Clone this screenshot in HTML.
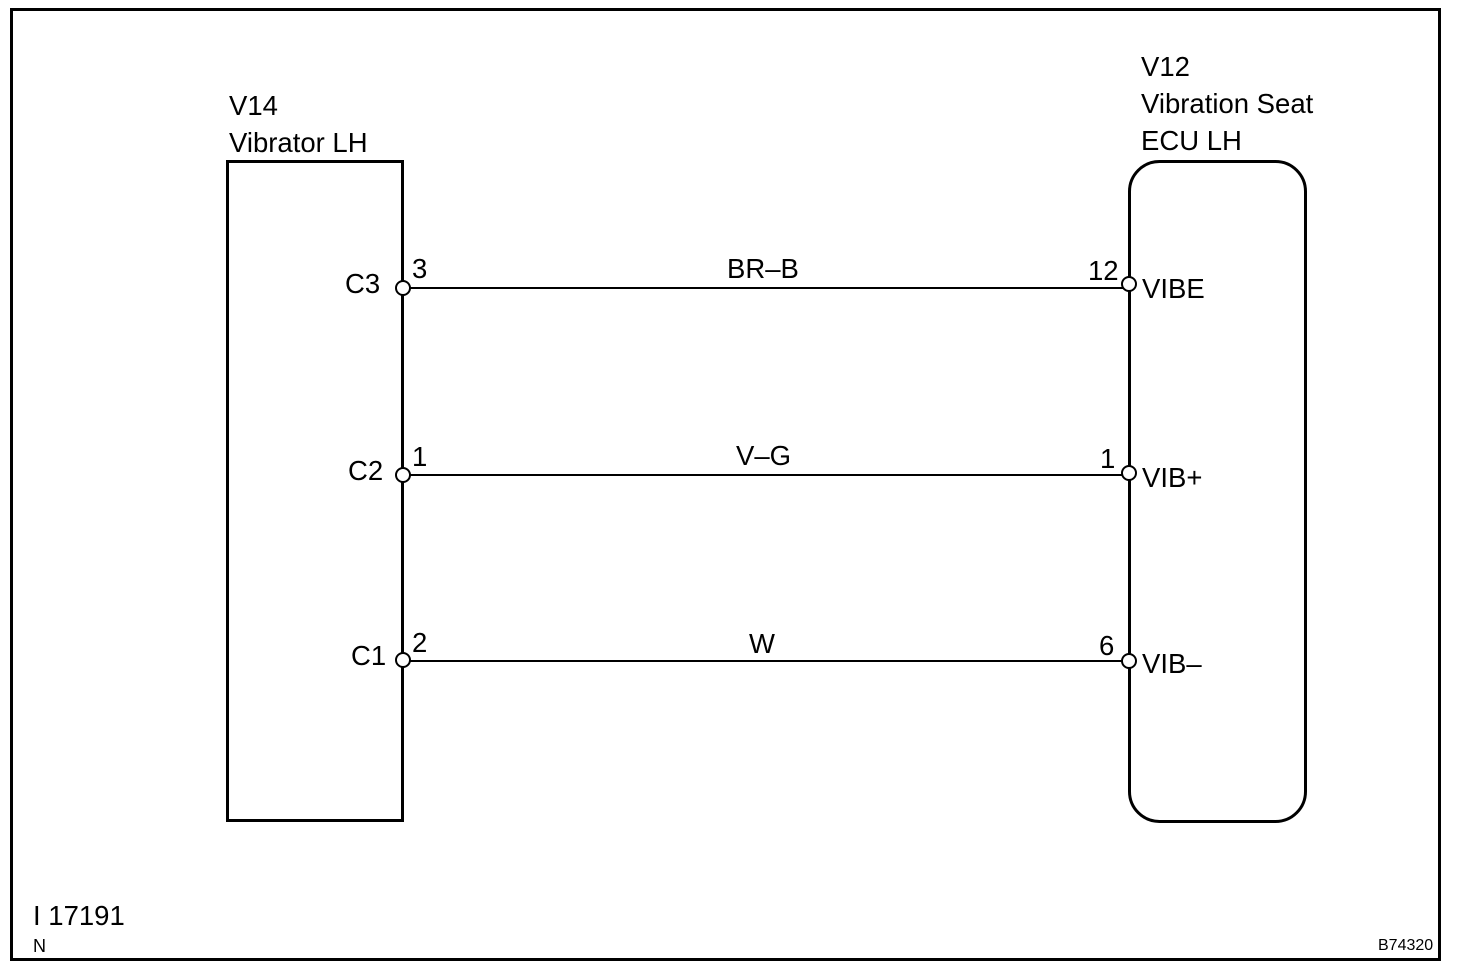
<!DOCTYPE html>
<html><head><style>
body{margin:0;background:#fff}
text{font-family:"Liberation Sans",sans-serif;fill:#000}
</style></head><body>
<svg width="1472" height="970" xmlns="http://www.w3.org/2000/svg">
<rect x="11.5" y="9.5" width="1428" height="950" fill="none" stroke="#000" stroke-width="3"/>
<rect x="227.5" y="161.5" width="175" height="659" fill="none" stroke="#000" stroke-width="3"/>
<rect x="1129.5" y="161.5" width="176" height="660" rx="30" ry="30" fill="none" stroke="#000" stroke-width="3"/>
<g stroke="#000" stroke-width="2">
<line x1="403" y1="288" x2="1129" y2="288"/>
<line x1="403" y1="475" x2="1129" y2="475"/>
<line x1="403" y1="661" x2="1129" y2="661"/>
</g>
<g fill="#fff" stroke="#000" stroke-width="2">
<circle cx="403" cy="288" r="7"/><circle cx="403" cy="475" r="7"/><circle cx="403" cy="660" r="7"/>
<circle cx="1129" cy="284" r="7"/><circle cx="1129" cy="473" r="7"/><circle cx="1129" cy="661" r="7"/>
</g>
<g font-size="27.5">
<text x="229" y="115">V14</text>
<text x="229" y="152">Vibrator LH</text>
<text x="1141" y="76">V12</text>
<text x="1141" y="113">Vibration Seat</text>
<text x="1141" y="150">ECU LH</text>
<text x="345" y="293">C3</text>
<text x="348" y="480">C2</text>
<text x="351" y="665">C1</text>
<text x="412" y="278">3</text>
<text x="412" y="466">1</text>
<text x="412" y="652">2</text>
<text x="727" y="278">BR–B</text>
<text x="736" y="465">V–G</text>
<text x="749" y="653">W</text>
<text x="1088" y="280">12</text>
<text x="1100" y="468">1</text>
<text x="1099" y="655">6</text>
<text x="1142" y="298">VIBE</text>
<text x="1142" y="487">VIB+</text>
<text x="1142" y="673">VIB–</text>
<text x="33" y="925">I 17191</text>
</g>
<text x="33" y="952" font-size="18">N</text>
<text x="1378" y="950" font-size="16">B74320</text>
</svg>
</body></html>
